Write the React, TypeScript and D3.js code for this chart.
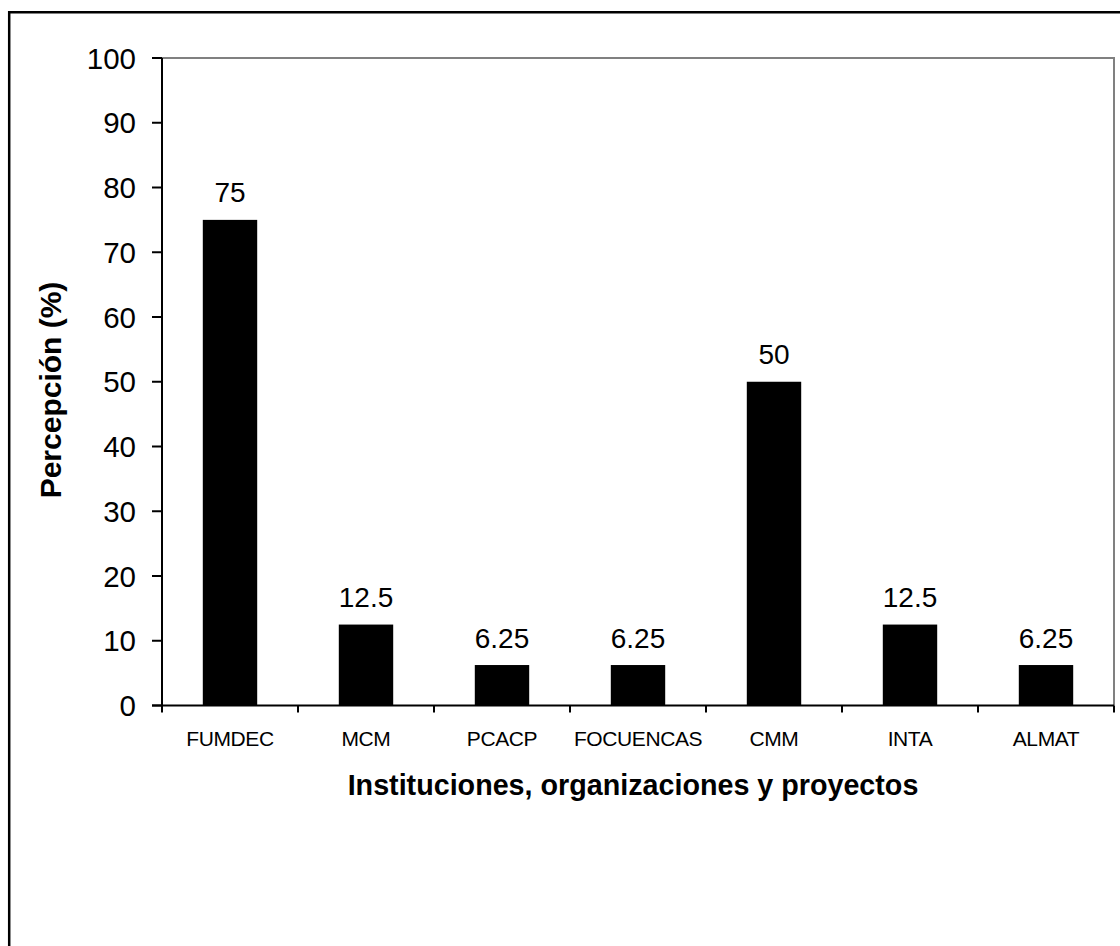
import React from "react";
import * as d3 from "d3";

const categories = ["FUMDEC", "MCM", "PCACP", "FOCUENCAS", "CMM", "INTA", "ALMAT"];
const values = [75, 12.5, 6.25, 6.25, 50, 12.5, 6.25];
const valueLabels = ["75", "12.5", "6.25", "6.25", "50", "12.5", "6.25"];
const yTicks = [0, 10, 20, 30, 40, 50, 60, 70, 80, 90, 100];

const W = 1120;
const H = 946;
const left = 162;
const right = 1114;
const top = 58;
const bottom = 705.5;

export default function App() {
  const x = d3.scaleBand<string>().domain(categories).range([left, right]).paddingInner(0.6).paddingOuter(0.3);
  const y = d3.scaleLinear().domain([0, 100]).range([bottom, top]);
  const step = x.step();
  const font = "Arial, 'Liberation Sans', Helvetica, sans-serif";
  const boundaries = d3.range(categories.length + 1).map((i) => left + i * step);

  return (
    <svg width={W} height={H} style={{ position: "absolute", left: 0, top: 0, display: "block" }} fontFamily={font}>
      <rect x={0} y={0} width={W} height={H} fill="white" />
      {/* outer border */}
      <path d={`M9.2,${H + 5} V12.2 H${W + 5}`} fill="none" stroke="black" strokeWidth={2.5} />
      {/* plot frame top/right */}
      <path d={`M${left},${top} H${right} V${bottom}`} fill="none" stroke="#808080" strokeWidth={2} />
      {/* bars */}
      {categories.map((c, i) => (
        <rect key={c} x={x(c)} y={y(values[i])} width={x.bandwidth()} height={bottom - y(values[i])} fill="black" />
      ))}
      {/* value labels */}
      {categories.map((c, i) => (
        <text key={"v" + c} x={(x(c) as number) + x.bandwidth() / 2} y={y(values[i]) - 17.5} textAnchor="middle" fontSize={28} fill="black">
          {valueLabels[i]}
        </text>
      ))}
      {/* y axis */}
      <line x1={left} x2={left} y1={top} y2={bottom + 1} stroke="black" strokeWidth={2} />
      {yTicks.map((t) => (
        <g key={"y" + t}>
          <line x1={152} x2={left} y1={y(t)} y2={y(t)} stroke="black" strokeWidth={2} />
          <text x={136} y={y(t)} dy="0.36em" textAnchor="end" fontSize={29.5} fill="black">
            {t}
          </text>
        </g>
      ))}
      {/* x axis */}
      <line x1={152} x2={right} y1={bottom} y2={bottom} stroke="black" strokeWidth={2} />
      {boundaries.map((b, i) => (
        <line key={"xt" + i} x1={b} x2={b} y1={bottom} y2={bottom + 7} stroke="black" strokeWidth={2} />
      ))}
      {categories.map((c) => (
        <text key={"xl" + c} x={(x(c) as number) + x.bandwidth() / 2} y={746} textAnchor="middle" fontSize={21} letterSpacing={-0.4} fill="black">
          {c}
        </text>
      ))}
      {/* titles */}
      <text x={633} y={795} textAnchor="middle" fontSize={28.7} fontWeight="bold" fill="black">
        Instituciones, organizaciones y proyectos
      </text>
      <text transform={`translate(61,390) rotate(-90)`} textAnchor="middle" fontSize={30} fontWeight="bold" fill="black">
        Percepción (%)
      </text>
    </svg>
  );
}
